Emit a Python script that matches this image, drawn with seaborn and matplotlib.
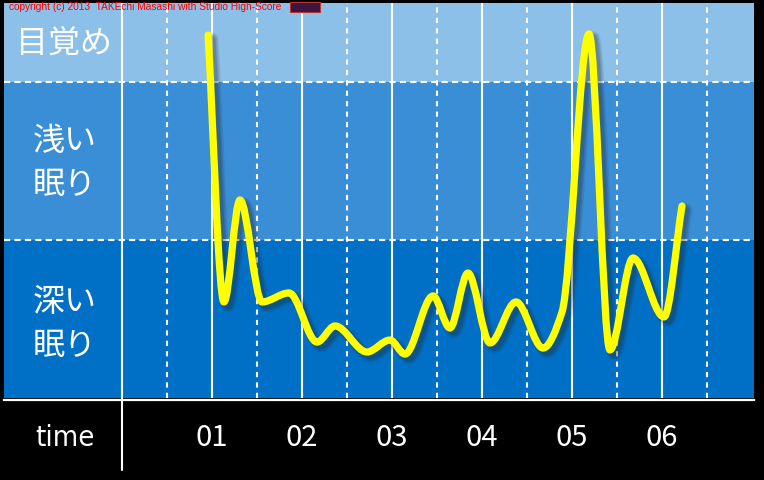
import numpy as np
import seaborn as sns
import matplotlib
matplotlib.use("Agg")
import matplotlib.pyplot as plt
from matplotlib.path import Path
from matplotlib.patches import PathPatch, Rectangle
from matplotlib import transforms

# sleep data (x: hours, y: 0-1 deep, 1-2 light, 2-2.5 awake)
hours = [0.956, 1.133, 1.311, 1.556, 1.856, 2.167, 2.367, 2.722, 2.978, 3.144,
         3.456, 3.644, 3.844, 4.089, 4.378, 4.678, 4.889, 5.189, 5.422, 5.678,
         6.022, 6.222]
depth = [2.297, 0.608, 1.253, 0.608, 0.665, 0.354, 0.456, 0.291, 0.367, 0.278,
         0.646, 0.443, 0.791, 0.348, 0.608, 0.316, 0.544, 2.304, 0.304, 0.886,
         0.513, 1.215]

tick_pos = [1, 2, 3, 4, 5, 6]
tick_labels = ["01", "02", "03", "04", "05", "06"]
band_edges = [0, 1, 2, 2.5]
band_colors = ["#0070c6", "#3a8ed6", "#8cc0e8"]
band_labels = ["深い\n眠り", "浅い\n眠り", "目覚め"]

sns.set_theme(style="dark")
plt.rcParams['font.family'] = ['Noto Sans CJK JP', 'DejaVu Sans']
num_font = ['DejaVu Sans']


def smooth_path(xs, ys):
    # cubic bezier segments with monotone tangents through the points
    xs = np.asarray(xs, float)
    ys = np.asarray(ys, float)
    h = np.diff(xs)
    d = np.diff(ys) / h
    n = len(xs)
    m = np.zeros(n)
    m[0], m[-1] = d[0], d[-1]
    for k in range(1, n - 1):
        if d[k - 1] * d[k] <= 0:
            m[k] = 0
        else:
            w1 = 2 * h[k] + h[k - 1]
            w2 = h[k] + 2 * h[k - 1]
            m[k] = (w1 + w2) / (w1 / d[k - 1] + w2 / d[k])
    verts = [(xs[0], ys[0])]
    codes = [Path.MOVETO]
    for k in range(n - 1):
        verts += [(xs[k] + h[k] / 3, ys[k] + m[k] * h[k] / 3),
                  (xs[k + 1] - h[k] / 3, ys[k + 1] - m[k + 1] * h[k] / 3),
                  (xs[k + 1], ys[k + 1])]
        codes += [Path.CURVE4] * 3
    return Path(verts, codes)


fig = plt.figure(figsize=(7.64, 4.8), dpi=100, facecolor="black")
W, H = 764, 480
ax = fig.add_axes([4 / W, (H - 398) / H, 750 / W, 395 / H])
ax.set_facecolor("black")
ax.set_xlim(-118 / 90, 632 / 90)
ax.set_ylim(0, 2.5)

for i in range(3):
    ax.axhspan(band_edges[i], band_edges[i + 1], color=band_colors[i], lw=0, zorder=0)

for y in [1, 2]:
    ax.axhline(y, color="white", lw=1.5, ls=(0, (3, 2)), zorder=1)
for x in [0] + tick_pos:
    ax.axvline(x, color="white", lw=1.5, zorder=1)
for x in np.arange(0.5, 7, 1):
    ax.axvline(x, color="white", lw=1.5, ls=(0, (2.5, 2.5)), zorder=1)

label_y = [0.468, 1.487, 2.24]
for lab, y in zip(band_labels, label_y):
    ax.text(-0.64, y, lab, color="white", fontsize=23, ha="center", va="center",
            linespacing=1.5, zorder=3)

path = smooth_path(hours, depth)
for lw, a in [(13, 0.10), (10, 0.14), (7, 0.18)]:
    shadow_tr = transforms.offset_copy(ax.transData, fig=fig, x=4, y=-4, units='dots')
    ax.add_patch(PathPatch(path, fill=False, edgecolor="#222222", lw=lw * 0.72,
                           alpha=a, transform=shadow_tr, capstyle="round", zorder=4))
ax.add_patch(PathPatch(path, fill=False, edgecolor="#ffff00", lw=5.2,
                       capstyle="round", joinstyle="round", zorder=5))

ax.set_xticks(tick_pos)
ax.set_xticklabels(tick_labels)
ax.tick_params(axis="x", length=0, pad=16.5, labelcolor="white", labelsize=21)
for t in ax.get_xticklabels():
    t.set_fontfamily(num_font)
    t.set_fontstretch("condensed")
ax.set_yticks([])
ax.grid(False)
for s in ["top", "left", "right"]:
    ax.spines[s].set_visible(False)
ax.spines["bottom"].set_color("white")
ax.spines["bottom"].set_linewidth(1.6)
ax.spines["bottom"].set_position(("outward", 1.5))

ax.plot([0, 0], [-0.456, 0], color="white", lw=1.5, clip_on=False)
ax.text(-0.633, -0.25, "time", color="white", fontsize=21, family=num_font,
        fontstretch="condensed", ha="center", va="center", clip_on=False)

fig.text(9 / W, 1 - 7 / H, "copyright (c) 2013  TAKEchi Masashi with Studio High-Score",
         color="#ff0000", fontsize=7.3, family=['Liberation Sans', 'DejaVu Sans'],
         ha="left", va="center")
fig.patches.append(Rectangle((290 / W, 1 - 12 / H), 30 / W, 10 / H, transform=fig.transFigure,
                             facecolor="#3b1640", edgecolor="#c03030", lw=0.8))

fig.savefig("out.png", dpi=100, facecolor="black")
